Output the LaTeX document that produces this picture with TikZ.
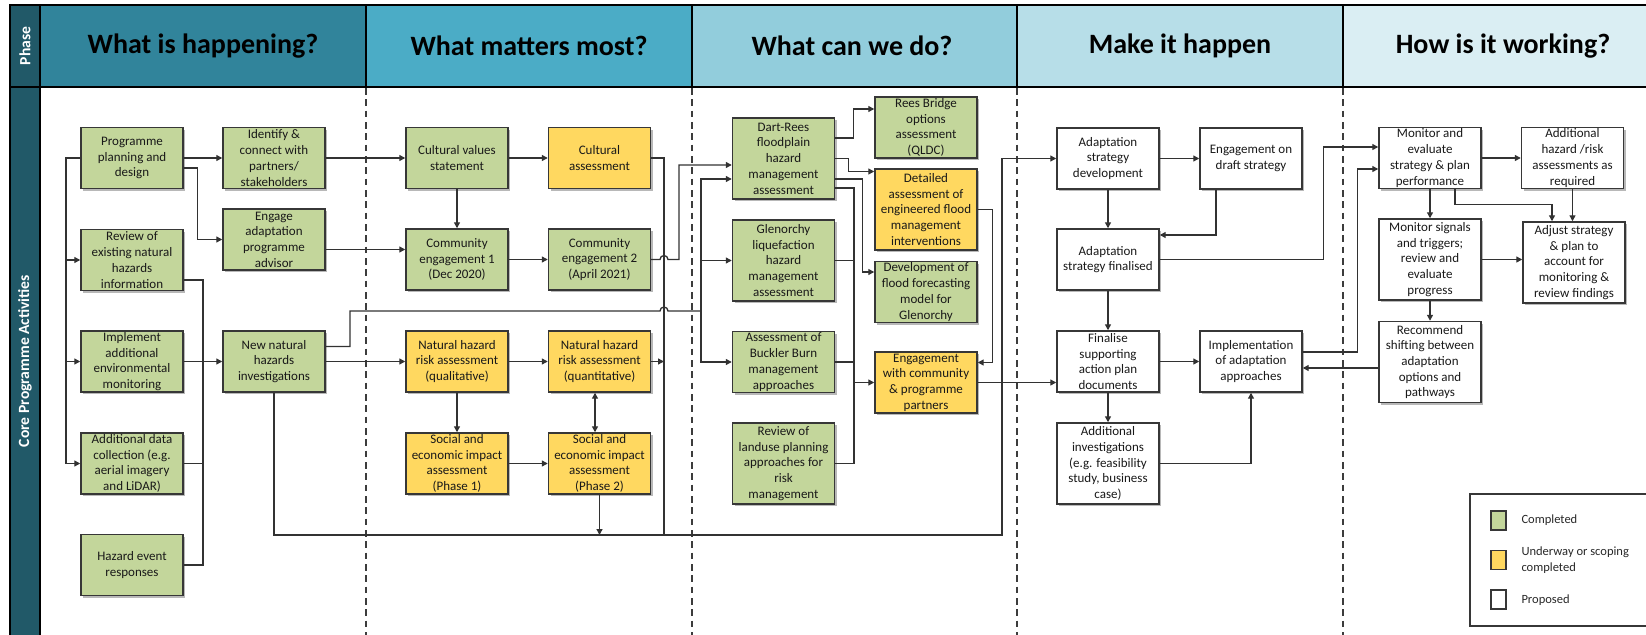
\documentclass[tikz,border=0pt]{standalone}
\usepackage{fontspec}
\setmainfont{Carlito}
\usetikzlibrary{arrows.meta,calc,shadows}

\tikzset{every picture/.style={line width=0.75pt}}
\tikzset{
  wire/.style={draw={rgb, 255:red, 50; green, 50; blue, 50 }, line width=1pt},
  arr/.style={wire, -{Triangle[length=4.5pt,width=4.5pt]}},
  arr2/.style={wire, {Triangle[length=4.5pt,width=4.5pt]}-{Triangle[length=4.5pt,width=4.5pt]}},
  actbox/.style={draw={rgb, 255:red, 55; green, 55; blue, 55 }, line width=1.1pt, minimum width=76.5pt, minimum height=45.75pt, inner sep=1pt, align=center, text={rgb, 255:red, 25; green, 25; blue, 25 }, font=\fontsize{9.75}{11.8}\selectfont, drop shadow={shadow xshift=1.6pt, shadow yshift=-1.6pt, fill=black, opacity=0.28}},
  done/.style={actbox, fill={rgb, 255:red, 195; green, 214; blue, 155 }},
  underway/.style={actbox, fill={rgb, 255:red, 255; green, 216; blue, 96 }},
  proposed/.style={actbox, fill=white},
  tall/.style={minimum height=60.75pt},
  hdr/.style={font=\fontsize{21}{24}\selectfont\bfseries, text=black},
  sidelabel/.style={font=\fontsize{11.7}{14}\selectfont\bfseries, text=white, rotate=90},
  divider/.style={draw={rgb, 255:red, 60; green, 60; blue, 60 }, line width=0.9pt, dash pattern={on 5pt off 3.5pt}},
  swatch/.style={draw={rgb, 255:red, 55; green, 55; blue, 55 }, line width=0.9pt, minimum width=11.25pt, minimum height=14.25pt, inner sep=0pt},
  keytext/.style={anchor=west, inner sep=0pt, align=left, font=\fontsize{9.4}{11.6}\selectfont, text={rgb, 255:red, 40; green, 40; blue, 40 }},
}

\begin{document}
\begin{tikzpicture}[x=0.75pt,y=0.75pt,yscale=-1,xscale=1]
\useasboundingbox (0,0) rectangle (1646,635);

%Header cells
\draw [fill={rgb, 255:red, 33; green, 89; blue, 104 }, line width=1.2pt] (10,5) rectangle (40,87);
\draw [fill={rgb, 255:red, 33; green, 89; blue, 104 }, line width=1.2pt] (10,87) rectangle (40,650);
\draw [fill={rgb, 255:red, 49; green, 132; blue, 155 }, line width=1.2pt] (40,5) rectangle (366,87);
\draw [fill={rgb, 255:red, 75; green, 172; blue, 198 }, line width=1.2pt] (366,5) rectangle (692,87);
\draw [fill={rgb, 255:red, 146; green, 205; blue, 220 }, line width=1.2pt] (692,5) rectangle (1017,87);
\draw [fill={rgb, 255:red, 183; green, 222; blue, 232 }, line width=1.2pt] (1017,5) rectangle (1343,87);
\draw [fill={rgb, 255:red, 218; green, 238; blue, 243 }, line width=1.2pt] (1343,5) rectangle (1660,87);
\draw [line width=1.6pt] (40,87) -- (1660,87);

%Phase dividers
\foreach \x in {366,692,1017,1343} \draw [divider] (\x,88) -- (\x,640);

% Text Node
\node [sidelabel] (phs) at (25,46) {Phase};
\node [sidelabel] (cpa) at (25,361) {Core Programme Activities};
\node [hdr] (h1) at (203,46) {What is happening?};
\node [hdr] (h2) at (529,46) {What matters most?};
\node [hdr] (h3) at (852,46) {What can we do?};
\node [hdr] (h4) at (1180,46) {Make it happen};
\node [hdr] (h5) at (1503,46) {How is it working?};

%Bus positions
\coordinate (lbus) at (66,0);
\coordinate (rbus) at (203,0);
\coordinate (cbus) at (664,0);
\coordinate (jbus) at (679,0);
\coordinate (gbus) at (701,0);
\coordinate (sbus) at (854,0);
\coordinate (abus) at (1002,0);
\coordinate (bot) at (0,535);
\coordinate (nrow) at (350,311);

%What is happening?
\node [done] (pp) at (132,158) {Programme\\planning and\\design};
\node [done] (idc) at (274,158) {Identify \&\\connect with\\partners/\\stakeholders};
\node [done] (eap) at (274,239.5) {Engage\\adaptation\\programme\\advisor};
\node [done] (rev) at (132,260) {Review of\\existing natural\\hazards\\information};
\node [done] (imp) at (132,361.5) {Implement\\additional\\environmental\\monitoring};
\node [done] (nnh) at (274,361.5) {New natural\\hazards\\investigations};
\node [done] (adc) at (132,463.5) {Additional data\\collection (e.g.\\aerial imagery\\and LiDAR)};
\node [done] (her) at (132,565) {Hazard event\\responses};

%What matters most?
\node [done] (cvs) at (457,158) {Cultural values\\statement};
\node [underway] (cas) at (599.5,158) {Cultural\\assessment};
\node [done] (ce1) at (457,259.5) {Community\\engagement 1\\(Dec 2020)};
\node [done] (ce2) at (599.5,259.5) {Community\\engagement 2\\(April 2021)};
\node [underway] (nql) at (457,361.5) {Natural hazard\\risk assessment\\(qualitative)};
\node [underway] (nqt) at (599.5,361.5) {Natural hazard\\risk assessment\\(quantitative)};
\node [underway] (se1) at (457,463.5) {Social and\\economic impact\\assessment\\(Phase 1)};
\node [underway] (se2) at (599.5,463.5) {Social and\\economic impact\\assessment\\(Phase 2)};

%What can we do?
\node [done, tall] (dr) at (783.5,158.5) {Dart-Rees\\floodplain\\hazard\\management\\assessment};
\node [done, tall] (gl) at (783.5,260.5) {Glenorchy\\liquefaction\\hazard\\management\\assessment};
\node [done] (bb) at (783.5,362) {Assessment of\\Buckler Burn\\management\\approaches};
\node [done, tall] (lu) at (783.5,463.5) {Review of\\landuse planning\\approaches for\\risk\\management};
\node [done] (rb) at (926,127.5) {Rees Bridge\\options\\assessment\\(QLDC)};
\node [underway, tall] (da) at (926,209.5) {Detailed\\assessment of\\engineered flood\\management\\interventions};
\node [done] (dff) at (926,292) {Development of\\flood forecasting\\model for\\Glenorchy};
\node [underway] (ewc) at (926,382.5) {Engagement\\with community\\\& programme\\partners};

%Make it happen
\node [proposed] (asd) at (1108,158.5) {Adaptation\\strategy\\development};
\node [proposed] (eds) at (1251,158.5) {Engagement on\\draft strategy};
\node [proposed] (asf) at (1108,259.5) {Adaptation\\strategy finalised};
\node [proposed] (fsa) at (1108,361.5) {Finalise\\supporting\\action plan\\documents};
\node [proposed] (iaa) at (1251,361.5) {Implementation\\of adaptation\\approaches};
\node [proposed, tall] (ain) at (1108,463.5) {Additional\\investigations\\(e.g. feasibility\\study, business\\case)};

%How is it working?
\node [proposed] (mev) at (1430,158) {Monitor and\\evaluate\\strategy \& plan\\performance};
\node [proposed] (ahr) at (1572.5,158) {Additional\\hazard /risk\\assessments as\\required};
\node [proposed, tall] (mst) at (1430,259.5) {Monitor signals\\and triggers;\\review and\\evaluate\\progress};
\node [proposed, tall] (ads) at (1574,262.5) {Adjust strategy\\\& plan to\\account for\\monitoring \&\\review findings};
\node [proposed, tall] (rsb) at (1430,362) {Recommend\\shifting between\\adaptation\\options and\\pathways};

%Connectors: What is happening?
\draw [arr] (pp.east) -- (idc.west);
\draw [arr] ($(pp.east)+(0,10)$) -| ($(eap.west)+(-25,0)$) -- (eap.west);
\draw [arr] (pp.west) -| (lbus |- adc.west) -- (adc.west);
\draw [arr] (lbus |- rev.west) -- (rev.west);
\draw [arr] (lbus |- imp.west) -- (imp.west);
\draw [wire] ($(rev.east)+(0,20)$) -| (rbus |- her.east) -- (her.east);
\draw [wire] (adc.east) -- (rbus |- adc.east);
\draw [arr] (imp.east) -- (nnh.west);
\draw [arr] (idc.east) -- (cvs.west);
\draw [arr] ($(eap.east)+(0,10)$) -- ($(ce1.west)+(0,-10)$);
\draw [wire] ($(nnh.east)+(0,-15)$) -| (nrow) -- ($(cbus |- nrow)+(-4,0)$) arc [start angle=180, end angle=360, radius=4] -- (gbus |- nrow);
\draw [arr] (nnh.east) -- (nql.west);
\draw [arr] (nnh.south) |- (abus |- bot) |- (asd.west);

%Connectors: What matters most?
\draw [arr] (cvs.east) -- (cas.west);
\draw [arr] (cvs.south) -- (ce1.north);
\draw [arr] (ce1.east) -- (ce2.west);
\draw [arr] (nql.east) -- (nqt.west);
\draw [arr] (nql.south) -- (se1.north);
\draw [arr] (se1.east) -- (se2.west);
\draw [arr2] ($(nqt.south)+(-4.5,0)$) -- ($(se2.north)+(-4.5,0)$);
\draw [arr] (se2.south) -- (se2.south |- bot);
\draw [wire] (cas.east) -| (cbus |- bot);
\draw [arr] (nqt.east) -- (cbus |- nqt.east);
\draw [arr] (ce2.east) -- ($(cbus |- ce2.east)+(-4,0)$) arc [start angle=180, end angle=360, radius=4] -| ($(jbus |- dr.west)+(0,6.5)$) -- ($(dr.west)+(0,6.5)$);

%Connectors: What can we do?
\draw [arr2] ($(dr.west)+(0,20.5)$) -| (gbus |- bb.west) -- (bb.west);
\draw [arr] (gbus |- gl.west) -- (gl.west);
\draw [arr] ($(dr.east)+(0,-20.5)$) -| ($(rb.west)+(-21,-18.5)$) -- ($(rb.west)+(0,-18.5)$);
\draw [arr] (dr.east) -| ($(da.west)+(-26,-38)$) -- ($(da.west)+(0,-38)$);
\draw [arr] ($(dr.east)+(0,20.5)$) -| ($(dff.west)+(-12,-20)$) -- ($(dff.west)+(0,-20)$);
\draw [wire] ($(dr.east)+(0,29.5)$) -| (sbus |- lu.east) -- (lu.east);
\draw [wire] (gl.east) -- (sbus |- gl.east);
\draw [wire] (bb.east) -- (sbus |- bb.east);
\draw [arr] (sbus |- ewc.west) -- (ewc.west);
\draw [arr] (da.east) -| ($(ewc.east)+(15,-20)$) -- ($(ewc.east)+(0,-20)$);
\draw [arr] (ewc.east) -- ($(fsa.west)+(0,21)$);

%Connectors: Make it happen
\draw [arr] (asd.east) -- (eds.west);
\draw [arr] (asd.south) -- (asf.north);
\draw [arr] ($(eds.south)+(-35,0)$) |- ($(asf.east)+(0,-24.5)$);
\draw [arr] (asf.east) -| ($(mev.west)+(-55,-11)$) -- ($(mev.west)+(0,-11)$);
\draw [arr] (asf.south) -- (fsa.north);
\draw [arr] (fsa.east) -- (iaa.west);
\draw [arr] (fsa.south) -- (ain.north);
\draw [arr] (ain.east) -| (iaa.south);
\draw [arr] ($(iaa.east)+(0,-9.5)$) -| ($(mev.west)+(-21,11)$) -- ($(mev.west)+(0,11)$);
\draw [arr] ($(rsb.west)+(0,6)$) -- ($(iaa.east)+(0,6.5)$);

%Connectors: How is it working?
\draw [arr] (mev.east) -- (ahr.west);
\draw [arr] (mev.south) -- (mst.north);
\draw [arr] ($(mev.south)+(25,0)$) |- ($(ads.north)+(-22,-17)$) -- ($(ads.north)+(-22,0)$);
\draw [arr] (ahr.south) -- (ahr.south |- ads.north);
\draw [arr] (mst.east) -- (mst.east -| ads.west);
\draw [arr] (mst.south) -- (rsb.north);

%Legend
\draw [draw={rgb, 255:red, 55; green, 55; blue, 55 }, line width=0.9pt, fill=white] (1470,494) rectangle (1660,626);
\node [swatch, fill={rgb, 255:red, 195; green, 214; blue, 155 }] (kd) at (1498.5,520.5) {};
\node [swatch, fill={rgb, 255:red, 255; green, 216; blue, 96 }] (ku) at (1498.5,560) {};
\node [swatch, fill=white] (kp) at (1498.5,599.5) {};
\node [keytext] (kdt) at (1521,520) {Completed};
\node [keytext] (kut) at (1521,560) {Underway or scoping\\completed};
\node [keytext] (kpt) at (1521,600) {Proposed};

\end{tikzpicture}
\end{document}
